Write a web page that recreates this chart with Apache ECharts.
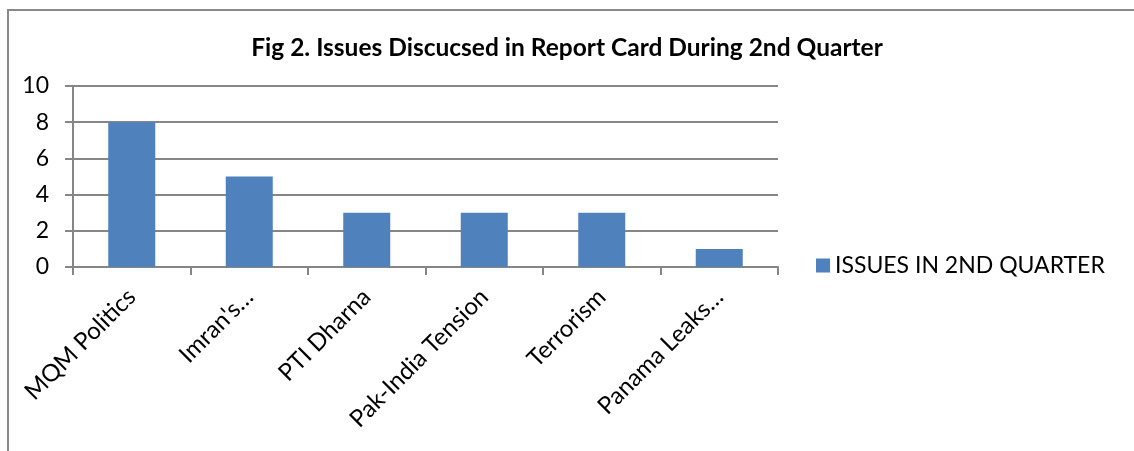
<!DOCTYPE html>
<html>
<head>
<meta charset="utf-8">
<script src="https://cdn.jsdelivr.net/npm/echarts@6/dist/echarts.min.js"></script>
<style>
  html, body { margin: 0; padding: 0; background: #fff; }
  #frame { position: absolute; left: 7px; top: 9px; width: 1140px; height: 460px;
           border-left: 2px solid #898989; border-top: 2px solid #898989; }
  #main { position: absolute; left: 0; top: 0; width: 1134px; height: 451px; }
</style>
</head>
<body>
<div id="frame"></div>
<div id="main"></div>
<script>
// categories and values
const issues = ['MQM Politics', "Imran's…", 'PTI Dharna', 'Pak-India Tension', 'Terrorism', 'Panama Leaks…']
const counts = [8, 5, 3, 3, 3, 1]
const seriesName = 'ISSUES IN 2ND QUARTER'
const yTicks = { min: 0, max: 10, interval: 2 }

const font = 'Lato, "Liberation Sans", sans-serif'
const gridGray = '#868686'

const myChart = echarts.init(document.getElementById('main'))

const option = {
    animation: false,
    title: {
        text: 'Fig 2. Issues Discucsed in Report Card During 2nd Quarter',
        left: 'center',
        top: 31,
        textStyle: { fontFamily: font, fontSize: 24.5, fontWeight: 'bold', color: '#000' },
    },
    legend: {
        left: 811,
        top: 249,
        itemWidth: 14,
        itemHeight: 14,
        icon: 'rect',
        textStyle: { fontFamily: font, fontSize: 23, color: '#000' },
        data: [seriesName],
    },
    grid: { left: 73, top: 86, right: 356, bottom: 184 },
    xAxis: {
        type: 'category',
        data: issues,
        axisLine: { lineStyle: { color: gridGray, width: 2 } },
        axisTick: { show: true, length: 8, lineStyle: { color: gridGray, width: 2 } },
        axisLabel: {
            rotate: 45,
            margin: 26,
            interval: 0,
            fontFamily: font,
            fontSize: 24,
            color: '#000',
        },
    },
    yAxis: {
        type: 'value',
        min: yTicks.min,
        max: yTicks.max,
        interval: yTicks.interval,
        axisLine: { show: true, lineStyle: { color: gridGray, width: 2 } },
        axisTick: { show: true, length: 8, lineStyle: { color: gridGray, width: 2 } },
        splitLine: { show: true, lineStyle: { color: gridGray, width: 2 } },
        axisLabel: { margin: 24, fontFamily: font, fontSize: 23, color: '#000' },
    },
    series: [{
        name: seriesName,
        type: 'bar',
        data: counts,
        barWidth: '40%',
        itemStyle: { color: '#4F81BD' },
    }],
}

myChart.setOption(option)
</script>
</body>
</html>
